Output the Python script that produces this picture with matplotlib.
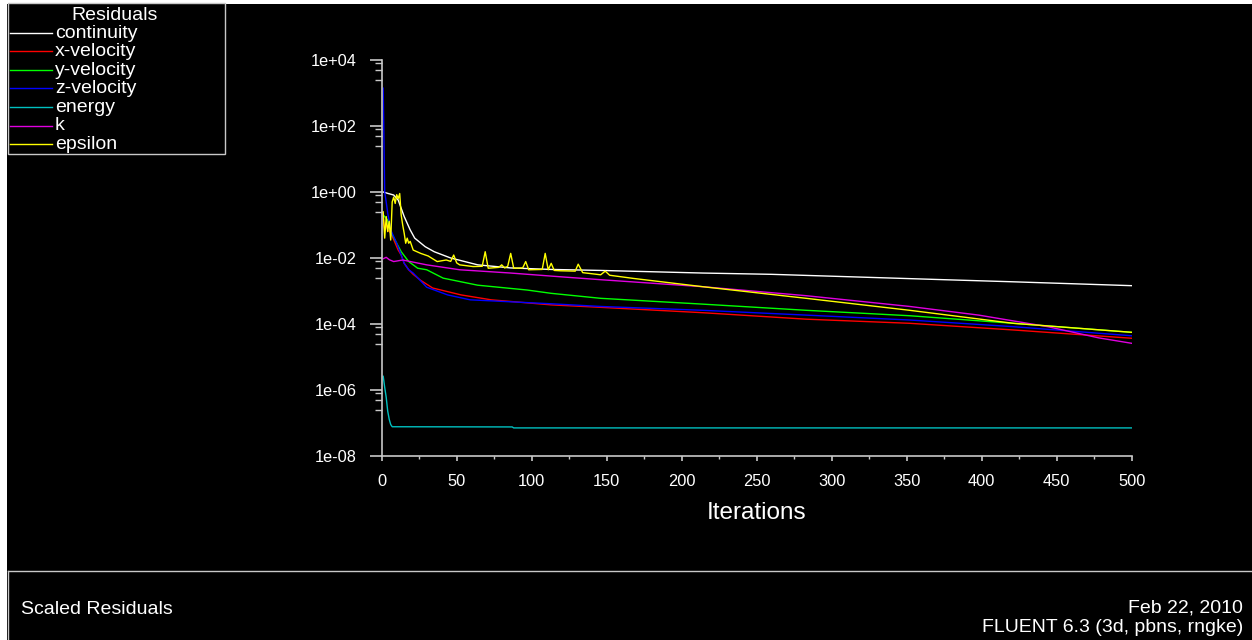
import matplotlib
matplotlib.use("Agg")
import matplotlib.pyplot as plt
from matplotlib.patches import Rectangle
from matplotlib.lines import Line2D
from matplotlib.ticker import FixedLocator, NullFormatter

plt.rcParams['font.family'] = ['Liberation Sans', 'DejaVu Sans']

# ---------------- data ----------------
legend_title = "Residuals"
series_names = ["continuity", "x-velocity", "y-velocity", "z-velocity", "energy", "k", "epsilon"]
series_colors = ["#ffffff", "#ff0000", "#00ff00", "#0000ff", "#00c0c0", "#e000e0", "#ffff00"]

continuity_it = [1, 4, 8, 11, 15, 19, 22, 29, 35, 46, 64, 86, 113, 146, 214, 260, 375, 421, 500]
continuity = [1.0, 0.91, 0.81, 0.57, 0.18, 0.071, 0.040, 0.022, 0.0155, 0.010, 0.0062, 0.0050,
              0.0045, 0.0042, 0.0035, 0.0032, 0.0022, 0.0019, 0.00145]

xvel_it = [1, 2, 3, 4, 6, 11, 13, 15, 18, 21, 26, 34, 53, 73, 113, 146, 214, 283, 352, 421, 500]
xvel = [0.16, 0.07, 0.11, 0.07, 0.058, 0.0174, 0.0123, 0.0069, 0.0044, 0.0032, 0.0021, 0.00123,
        7.6e-4, 5.4e-4, 3.8e-4, 3.2e-4, 2.2e-4, 1.4e-4, 1.05e-4, 6.6e-5, 3.7e-5]

yvel_it = [1, 2, 4, 6, 10, 13, 18, 24, 30, 41, 64, 97, 113, 146, 214, 283, 352, 421, 500]
yvel = [0.2, 0.18, 0.14, 0.063, 0.028, 0.0155, 0.0078, 0.0049, 0.0044, 0.00245, 0.0015, 0.00107,
        8.5e-4, 6.0e-4, 4.0e-4, 2.6e-4, 1.78e-4, 1.05e-4, 5.6e-5]

zvel_it = [1, 2, 3, 4, 6, 10, 13, 15, 18, 21, 30, 44, 59, 113, 146, 214, 283, 352, 421, 500]
zvel = [1400.0, 1.0, 0.5, 0.23, 0.071, 0.028, 0.0123, 0.0069, 0.0044, 0.0035, 0.0013, 7.6e-4,
        5.4e-4, 4.1e-4, 3.4e-4, 2.6e-4, 1.86e-4, 1.32e-4, 8.3e-5, 4.4e-5]

energy_it = [1, 2, 3, 4, 5, 6, 7, 87, 88, 500]
energy = [2.6e-6, 1.2e-6, 6.0e-7, 2.3e-7, 1.3e-7, 9.0e-8, 7.7e-8, 7.6e-8, 7.1e-8, 7.1e-8]

k_it = [1, 3, 5, 8, 14, 30, 52, 86, 119, 146, 214, 283, 352, 398, 444, 478, 500]
k_res = [0.0095, 0.0105, 0.0089, 0.0078, 0.0087, 0.0062, 0.0044, 0.0035, 0.0027, 0.0022,
         0.00135, 7.2e-4, 3.4e-4, 1.86e-4, 8.3e-5, 3.8e-5, 2.6e-5]

eps_it = [1, 2, 3, 4, 5, 6, 7, 8, 9, 10, 11, 12, 13, 14, 15, 16, 17, 18, 19, 21, 26, 31, 37, 43,
          46, 48, 50, 52, 61, 67, 69, 71, 78, 80, 82, 84, 86, 88, 94, 96, 98, 107, 109, 111, 113,
          115, 119, 129, 131, 134, 146, 149, 152, 168, 214, 283, 352, 421, 500]
eps = [0.25, 0.04, 0.18, 0.063, 0.13, 0.035, 0.5, 0.7, 0.45, 0.83, 0.63, 0.9, 0.2, 0.1, 0.056,
       0.028, 0.04, 0.028, 0.032, 0.0174, 0.0138, 0.0115, 0.0078, 0.0087, 0.0079, 0.0123, 0.0071,
       0.0062, 0.0055, 0.0056, 0.0155, 0.0049, 0.0052, 0.0062, 0.005, 0.0056, 0.0138, 0.0049,
       0.005, 0.0078, 0.0044, 0.0045, 0.0138, 0.0044, 0.0069, 0.0042, 0.0041, 0.004, 0.0065,
       0.0036, 0.0031, 0.0040, 0.0030, 0.0024, 0.00135, 6.0e-4, 2.6e-4, 1.05e-4, 5.6e-5]

xticks = [0, 50, 100, 150, 200, 250, 300, 350, 400, 450, 500]
xtick_labels = ["0", "50", "100", "150", "200", "250", "300", "350", "400", "450", "500"]
xminor = [25, 75, 125, 175, 225, 275, 325, 375, 425, 475]
yticks = [1e-8, 1e-6, 1e-4, 1e-2, 1e0, 1e2, 1e4]
ytick_labels = ["1e-08", "1e-06", "1e-04", "1e-02", "1e+00", "1e+02", "1e+04"]
yminor_factors = [0.8, 0.5, 0.25]
x_label = "Iterations"
footer_left = "Scaled Residuals"
footer_right = ["Feb 22, 2010", "FLUENT 6.3 (3d, pbns, rngke)"]

series = [(continuity_it, continuity), (xvel_it, xvel), (yvel_it, yvel), (zvel_it, zvel),
          (energy_it, energy), (k_it, k_res), (eps_it, eps)]

# ---------------- figure ----------------
W, H = 1252, 640
fig = plt.figure(figsize=(W / 100, H / 100), dpi=100, facecolor="white")


def fx(px):
    return px / W


def fy(py):
    return 1 - py / H


GRAY = "#c8c8c8"

# black panel
fig.add_artist(Rectangle((fx(7), 0), 1 - fx(7), fy(4), transform=fig.transFigure,
                         facecolor="black", edgecolor="none", zorder=-5))

ax = fig.add_axes([fx(381.7), fy(456), 750 / W, 396 / H])
ax.set_facecolor("black")

for (xs, ys), c, name in zip(series, series_colors, series_names):
    ax.plot(xs, ys, color=c, lw=1.0, label=name)

ax.set_yscale("log")
ax.set_xlim(0, 500)
ax.set_ylim(1e-8, 1e4)
ax.set_xticks(xticks, xtick_labels)
ax.xaxis.set_minor_locator(FixedLocator(xminor))
ax.set_yticks(yticks, ytick_labels)
ax.yaxis.set_minor_locator(FixedLocator([v * f for v in yticks for f in yminor_factors]))
ax.yaxis.set_minor_formatter(NullFormatter())

for s in ["top", "right"]:
    ax.spines[s].set_visible(False)
for s in ["left", "bottom"]:
    ax.spines[s].set_color(GRAY)
    ax.spines[s].set_linewidth(1.2)

ax.tick_params(axis="y", which="major", length=8.6, width=1.2, color=GRAY,
               labelcolor="white", labelsize=11.8, pad=9.4)
ax.tick_params(axis="y", which="minor", length=5, width=1.0, color=GRAY)
ax.tick_params(axis="x", which="major", length=3.6, width=1.2, color=GRAY,
               labelcolor="white", labelsize=11.8, pad=9.5)
ax.tick_params(axis="x", which="minor", length=2.2, width=1.0, color=GRAY)
ax.set_xlabel(x_label, color="white", fontsize=17.5, labelpad=9)

# legend box (drawn in figure pixels)
fig.add_artist(Rectangle((fx(7.5), fy(154)), (225 - 7.5) / W, (154 - 3) / H,
                         transform=fig.transFigure, facecolor="black",
                         edgecolor=GRAY, lw=1.0, zorder=1))
fig.text(fx(115), fy(15), legend_title, color="white", fontsize=14, ha="center",
         va="center", zorder=3)
for i, (name, c) in enumerate(zip(series_names, series_colors)):
    yy = 32.5 + 18.6 * i
    fig.add_artist(Line2D([fx(10), fx(52)], [fy(yy), fy(yy)], color=c, lw=1.0,
                          transform=fig.transFigure, zorder=3))
    fig.text(fx(55), fy(yy + 0.5), name, color="white", fontsize=14, ha="left",
             va="center", zorder=3)

# footer separator
fig.add_artist(Line2D([fx(7.5), 1], [fy(570.5), fy(570.5)], color=GRAY, lw=1.0,
                      transform=fig.transFigure, zorder=2))
fig.add_artist(Line2D([fx(7.5), fx(7.5)], [fy(570.5), 0], color=GRAY, lw=1.0,
                      transform=fig.transFigure, zorder=2))
fig.text(fx(21), fy(609), footer_left, color="white", fontsize=14, ha="left", va="center")
fig.text(fx(1243), fy(608), footer_right[0], color="white", fontsize=14, ha="right", va="center")
fig.text(fx(1243), fy(628), footer_right[1], color="white", fontsize=14, ha="right", va="center")

fig.savefig("out.png", dpi=100, facecolor="white")
